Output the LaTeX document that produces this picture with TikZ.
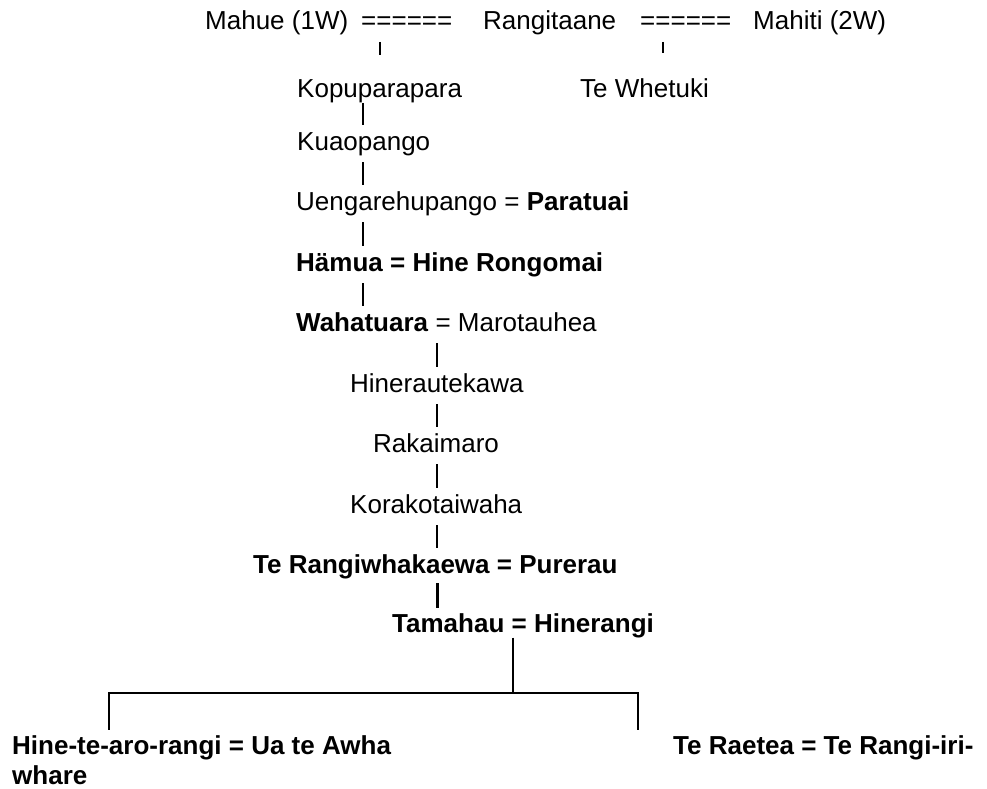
\documentclass[tikz,border=0pt]{standalone}
\usepackage{fontspec}
\setmainfont{Liberation Sans}
\usetikzlibrary{calc}

\begin{document}
\begin{tikzpicture}[x=1pt,y=-1pt,
  every node/.style={anchor=base west,inner sep=0pt,font=\fontsize{26}{30}\selectfont},
  bar/.style={line width=1.2pt,shorten <=12pt,shorten >=25pt},
  tree/.style={line width=1.3pt}]

  \useasboundingbox (0,0) rectangle (987,789);

  % The two marriages on the top row
  \node (mahue) at (205,30) {Mahue (1W)};
  \node (eqa) at (361,30) {======};
  \node (rangitaane) at (483,30) {Rangitaane};
  \node (eqb) at (640,30) {======};
  \node (mahiti) at (753,30) {Mahiti (2W)};

  % The line of descent
  \node (kopu) at (297,98) {Kopuparapara};
  \node (whetuki) at (580,98) {Te Whetuki};
  \node (kuao) at (297,150) {Kuaopango};
  \node (ueng) at (296,210) {Uengarehupango = \textbf{Paratuai}};
  \node (hamua) at (296,271) {\textbf{Hämua = Hine Rongomai}};
  \node (waha) at (296,331) {\textbf{Wahatuara} = Marotauhea};
  \node (hinerau) at (350,392) {Hinerautekawa};
  \node (rakai) at (373,452) {Rakaimaro};
  \node (korako) at (350,513) {Korakotaiwaha};
  \node (terangi) at (253,573) {\textbf{Te Rangiwhakaewa = Purerau}};
  \node (tamahau) at (392,632) {\textbf{Tamahau = Hinerangi}};
  \node [align=left] (hine) at (12,784) {\textbf{Hine-te-aro-rangi = Ua te Awha}\\\textbf{whare}};
  \node (raetea) at (673,754) {\textbf{Te Raetea = Te Rangi-iri-}};

  % Columns of the short bars
  \coordinate (cola) at (380,0);
  \coordinate (colb) at (663,0);
  \coordinate (colc) at (363,0);
  \coordinate (cold) at (437,0);

  \draw [bar,shorten >=43pt] (eqa.base -| cola) -- (kopu.base -| cola);
  \draw [bar,shorten >=45pt] (eqb.base -| colb) -- (whetuki.base -| colb);
  \draw [bar,shorten <=5pt] (kopu.base -| colc) -- (kuao.base -| colc);
  \foreach \a/\b in {kuao/ueng,ueng/hamua,hamua/waha} {
    \draw [bar] (\a.base -| colc) -- (\b.base -| colc);
  }
  \foreach \a/\b in {waha/hinerau,hinerau/rakai,rakai/korako,korako/terangi} {
    \draw [bar] (\a.base -| cold) -- (\b.base -| cold);
  }
  \draw [bar,line width=3pt,shorten <=10pt,shorten >=24pt] (terangi.base -| cold) -- (tamahau.base -| cold);

  % The fork to the two children
  \coordinate (fork) at (513,693);
  \coordinate (forkl) at (109,693);
  \coordinate (forkr) at (638,693);
  \draw [tree] (tamahau.south -| fork) -- (fork);
  \draw [tree] ([yshift=5pt]hine.north -| forkl) -- (forkl) -- (forkr) -- ([yshift=5pt]raetea.north -| forkr);

\end{tikzpicture}
\end{document}
